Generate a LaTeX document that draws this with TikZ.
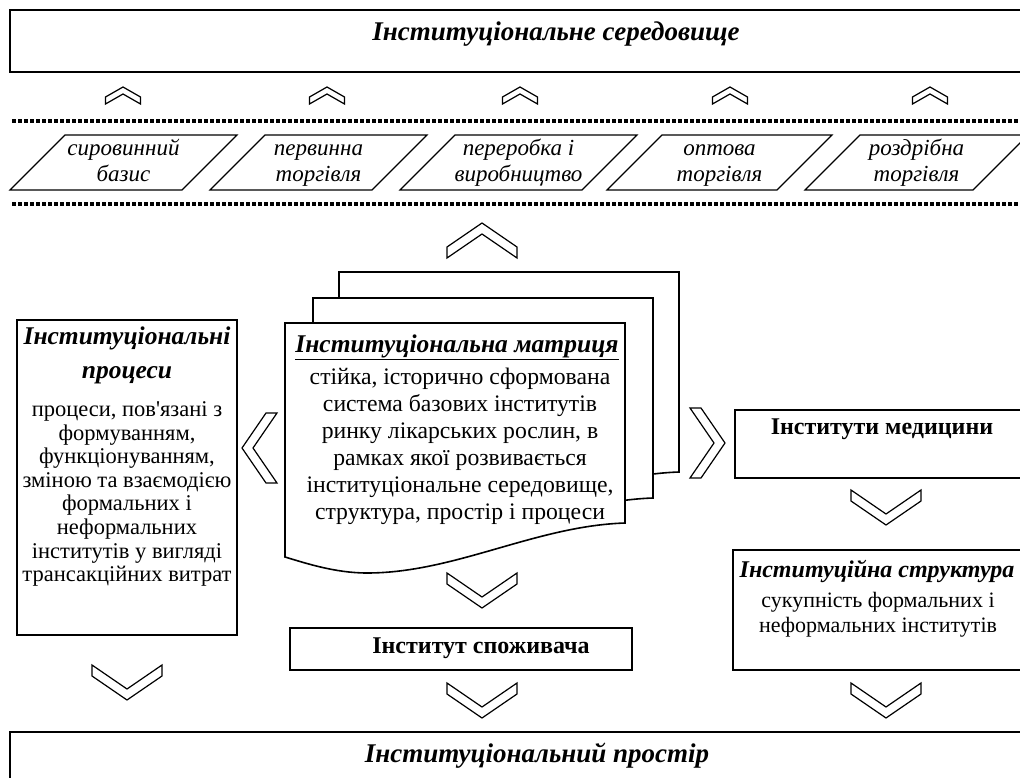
\documentclass[tikz,border=0pt]{standalone}
\usepackage{fontspec}
\setmainfont{Liberation Serif}
\usetikzlibrary{positioning}

\newcommand{\ttlfont}{\fontsize{27}{32}\selectfont\bfseries\itshape}
\newcommand{\parafont}{\fontsize{23}{26}\selectfont\itshape}
\newcommand{\hdfont}{\fontsize{25.5}{34}\selectfont\bfseries\itshape}
\newcommand{\sthdfont}{\fontsize{24}{28}\selectfont\bfseries\itshape}
\newcommand{\txfont}{\fontsize{22.5}{23.6}\selectfont}
\newcommand{\mxfont}{\fontsize{23.7}{27}\selectfont}
\newcommand{\stfont}{\fontsize{22}{25}\selectfont}
\newcommand{\bdfont}{\fontsize{24}{28}\selectfont\bfseries}

\tikzset{
  outerbox/.style={line width=1.8pt},
  thickbox/.style={line width=2.6pt},
  para/.style={line width=1.2pt},
  dotline/.style={line width=4pt, dash pattern=on 4pt off 2pt},
  chevline/.style={line width=1.2pt, fill=white},
  sheet/.style={line width=1.6pt, fill=white},
  lbl/.style={inner sep=0pt, align=center},
  chevbig/.pic={\draw[chevline] (-35,-17.5) -- (0,6.5) -- (35,-17.5) -- (35,-6.5) -- (0,17.5) -- (-35,-6.5) -- cycle;},
  chevsmall/.pic={\draw[chevline] (-17.5,-8.5) -- (0,1.5) -- (17.5,-8.5) -- (17.5,-1.5) -- (0,8.5) -- (-17.5,-1.5) -- cycle;},
  docsheet/.pic={\draw[sheet] (0,0) -- (340,0) -- (340,200) .. controls (250,203) and (170,250) .. (82,250) .. controls (50,250) and (20,240) .. (0,234) -- cycle;}
}

\begin{document}
\begin{tikzpicture}[x=1pt,y=-1pt,line join=miter]
\useasboundingbox (0,0) rectangle (1020,778);
\clip (0,0) rectangle (1020,778);
% environment
\draw[thickbox] (10,10) rectangle (1040,72);
\node[lbl,font=\ttlfont] (env) at (556,34) {Інституціональне середовище};
\foreach \x in {123,327,520,730,930}
  \pic[rotate=180] at (\x,95.5) {chevsmall};
\draw[dotline] (12,121) -- (1020,121);
\draw[dotline] (12,204) -- (1020,204);
% market chain
\foreach \bl/\br/\ta/\tb [count=\i] in {10/182/сировинний/базис,210/372/первинна/торгівля,400/582/переробка і/виробництво,607/777/оптова/торгівля,805/973/роздрібна/торгівля}
{
  \draw[para] (\bl,190) -- (\br,190) -- (\br+55,135) -- (\bl+55,135) -- cycle;
  \node[lbl,font=\parafont] (link\i) at ({(\bl+\br)/2+27.5},163) {\strut\ta\\\strut\tb};
}
% matrix
\pic[rotate=180] at (482,240.5) {chevbig};
\pic at (339,272) {docsheet};
\pic at (313,298) {docsheet};
\pic at (285,323) {docsheet};
\node[lbl,font=\hdfont] (mtitle) at (457,347) {\underline{Інституціональна матриця}};
\node[lbl,font=\mxfont] (mtext) at (460,446) {стійка, історично сформована\\система базових інститутів\\ринку лікарських рослин, в\\рамках якої розвивається\\інституціональне середовище,\\структура, простір і процеси};
% processes
\draw[outerbox] (17,320) rectangle (237,635);
\node[lbl,font=\hdfont] (ptitle) at (127,355) {Інституціональні\\процеси};
\node[lbl,font=\txfont] (ptext) at (127,494) {процеси, пов\textquotesingle язані з\\формуванням,\\функціонуванням,\\зміною та взаємодією\\формальних і\\неформальних\\інститутів у вигляді\\трансакційних витрат};
\pic[rotate=-90] at (259.5,448) {chevbig};
\pic[rotate=90] at (707.5,443) {chevbig};
% medicine and structure
\draw[outerbox] (735,410) rectangle (1040,478);
\node[lbl,font=\bdfont] (med) at (882,429) {Інститути медицини};
\pic at (886,507.5) {chevbig};
\draw[outerbox] (733,550) rectangle (1040,670);
\node[lbl,font=\sthdfont] (stitle) at (877,571) {Інституційна структура};
\node[lbl,font=\stfont] (stext) at (878,615) {сукупність формальних і\\неформальних інститутів};
\pic at (886,700.5) {chevbig};
% consumer
\pic at (482,590.5) {chevbig};
\draw[outerbox] (290,628) rectangle (632,670);
\node[lbl,font=\bdfont] (cons) at (481,648) {Інститут споживача};
\pic at (482,700.5) {chevbig};
\pic at (127,682.5) {chevbig};
% space
\draw[thickbox] (10,732) rectangle (1040,800);
\node[lbl,font=\ttlfont] (space) at (537,756) {Інституціональний простір};
\end{tikzpicture}
\end{document}
